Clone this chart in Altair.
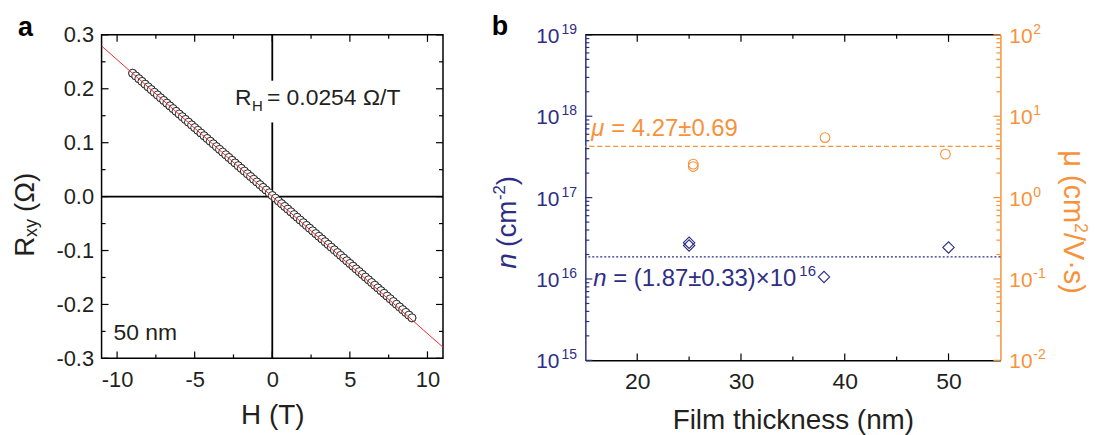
import altair as alt
import pandas as pd

FONT = "Liberation Sans"
INK = "#231f20"
NAVY = "#2d2e83"
ORANGE = "#f7923a"
RED = "#ee2b2b"

# ---------------- panel a : Hall resistance of the 50 nm film ----------------
H_FIELD = [-9.0, -8.8, -8.6, -8.4, -8.2, -8.0, -7.8, -7.6, -7.4, -7.2, -7.0, -6.8, -6.6,
           -6.4, -6.2, -6.0, -5.8, -5.6, -5.4, -5.2, -5.0, -4.8, -4.6, -4.4, -4.2, -4.0,
           -3.8, -3.6, -3.4, -3.2, -3.0, -2.8, -2.6, -2.4, -2.2, -2.0, -1.8, -1.6, -1.4,
           -1.2, -1.0, -0.8, -0.6, -0.4, -0.2, 0.0, 0.2, 0.4, 0.6, 0.8, 1.0, 1.2, 1.4,
           1.6, 1.8, 2.0, 2.2, 2.4, 2.6, 2.8, 3.0, 3.2, 3.4, 3.6, 3.8, 4.0, 4.2, 4.4,
           4.6, 4.8, 5.0, 5.2, 5.4, 5.6, 5.8, 6.0, 6.2, 6.4, 6.6, 6.8, 7.0, 7.2, 7.4,
           7.6, 7.8, 8.0, 8.2, 8.4, 8.6, 8.8, 9.0]
R_XY = [0.2288, 0.2238, 0.2187, 0.2137, 0.2086, 0.2036, 0.1986, 0.1935, 0.1885, 0.1834,
        0.1784, 0.1734, 0.1683, 0.1633, 0.1582, 0.1532, 0.1482, 0.1431, 0.1381, 0.1330,
        0.1280, 0.1230, 0.1179, 0.1129, 0.1078, 0.1028, 0.0978, 0.0927, 0.0877, 0.0826,
        0.0776, 0.0726, 0.0675, 0.0625, 0.0574, 0.0524, 0.0474, 0.0423, 0.0373, 0.0322,
        0.0272, 0.0222, 0.0171, 0.0121, 0.0070, 0.0020, -0.0030, -0.0081, -0.0131, -0.0182,
        -0.0232, -0.0282, -0.0333, -0.0383, -0.0434, -0.0484, -0.0534, -0.0585, -0.0635,
        -0.0686, -0.0736, -0.0786, -0.0837, -0.0887, -0.0938, -0.0988, -0.1038, -0.1089,
        -0.1139, -0.1190, -0.1240, -0.1290, -0.1341, -0.1391, -0.1442, -0.1492, -0.1542,
        -0.1593, -0.1643, -0.1694, -0.1744, -0.1794, -0.1845, -0.1895, -0.1946, -0.1996,
        -0.2046, -0.2097, -0.2147, -0.2198, -0.2248]
FIT_H = [-11.0, 11.0]
FIT_R = [0.2794, -0.2794]
ZERO_V_FROM = [0.3, 0.1376]
ZERO_V_TO = [0.215, -0.3]
A_X_MAJOR = [-10, -5, 0, 5, 10]
A_X_MINOR = [-7.5, -2.5, 2.5, 7.5]
A_Y_MAJOR = [-0.3, -0.2, -0.1, 0.0, 0.1, 0.2, 0.3]
A_Y_MINOR = [-0.25, -0.15, -0.05, 0.05, 0.15, 0.25]

# ---------------- panel b : carrier density and mobility ----------------
N_THICK = [25.0, 25.0, 38.0, 50.0]
N_CONC = [2.79e16, 2.58e16, 1.06e16, 2.44e16]
MU_THICK = [25.4, 25.4, 38.1, 49.7]
MU_VAL = [2.58, 2.41, 5.47, 3.42]
N_MEAN = [1.87e16]
MU_MEAN = [4.27]
B_X_MAJOR = [20, 30, 40, 50]
B_X_MINOR = [25, 35, 45]
N_DECADES = [1e15, 1e16, 1e17, 1e18, 1e19]
N_EXP = ["15", "16", "17", "18", "19"]
MU_DECADES = [0.01, 0.1, 1.0, 10.0, 100.0]
MU_EXP = ["-2", "-1", "0", "1", "2"]
MINOR_MULT = [2, 3, 4, 5, 6, 7, 8, 9]
N_MINOR = [m * d for d in N_DECADES[:-1] for m in MINOR_MULT]
MU_MINOR = [m * d for d in MU_DECADES[:-1] for m in MINOR_MULT]

WA, HA = 343, 325
WB, HB = 417, 327
TK_MAJ, TK_MIN = 7, 4
LBL = 21      # "10" of the log-axis labels
SUP = 14      # exponents

XA = alt.Scale(domain=[-11, 11], nice=False, zero=False)
YA = alt.Scale(domain=[-0.3, 0.3], nice=False, zero=False)
XB = alt.Scale(domain=[15, 55], nice=False, zero=False)
YN = alt.Scale(type="log", domain=[1e15, 1e19], nice=False)
YM = alt.Scale(type="log", domain=[0.01, 100], nice=False)


def frame(**cols):
    return pd.DataFrame(cols)


def side_ticks(values, scale, side, length, color, w, h):
    base = alt.Chart(frame(v=values)).mark_rule(color=color, strokeWidth=1.2)
    if side in ("left", "right"):
        x0 = 0 if side == "left" else w
        x1 = length if side == "left" else w - length
        return base.encode(y=alt.Y("v:Q", scale=scale),
                           x=alt.value(x0), x2=alt.value(x1))
    y0 = 0 if side == "top" else h
    y1 = length if side == "top" else h - length
    return base.encode(x=alt.X("v:Q", scale=scale),
                       y=alt.value(y0), y2=alt.value(y1))


def px_text(t, x, y, **mk):
    return alt.Chart(frame(t=[t])).mark_text(font=FONT, **mk).encode(
        text="t:N", x=alt.value(x), y=alt.value(y))


def data_text(t, x, y, xs, ys, **mk):
    return alt.Chart(frame(t=[t], x=[x], y=[y])).mark_text(font=FONT, **mk).encode(
        text="t:N",
        x=alt.X("x:Q", scale=xs),
        y=alt.Y("y:Q", scale=ys))


def log_labels(decades, exps, scale, x_base, x_sup, align_base, color):
    base = alt.Chart(frame(v=decades, b=["10"] * len(decades), e=exps))
    tens = base.mark_text(font=FONT, fontSize=LBL, color=color, align=align_base,
                          baseline="alphabetic", dy=8).encode(
        text="b:N", y=alt.Y("v:Q", scale=scale), x=alt.value(x_base))
    sups = base.mark_text(font=FONT, fontSize=SUP, color=color, align="left",
                          baseline="alphabetic", dy=-1).encode(
        text="e:N", y=alt.Y("v:Q", scale=scale), x=alt.value(x_sup))
    return [tens, sups]


# ---------------- panel a ----------------
a_points = alt.Chart(frame(h=H_FIELD, r=R_XY)).mark_point(
    shape="circle", filled=True, fill="white", stroke="black", strokeWidth=0.8,
    size=64, opacity=1
).encode(
    x=alt.X("h:Q", scale=XA, title="H (T)",
            axis=alt.Axis(values=A_X_MAJOR,
                          labelExpr="(datum.value < 0 ? '-' : '') + format(abs(datum.value), 'd')",
                          labelPadding=11, labelFlush=False, labelOverlap=False,
                          titleY=65, titleBaseline="alphabetic")),
    y=alt.Y("r:Q", scale=YA, title=None,
            axis=alt.Axis(values=A_Y_MAJOR,
                          labelExpr="(datum.value < -0.0001 ? '-' : '') + format(abs(datum.value), '.1f')",
                          labelPadding=8, labelFlush=False, labelOverlap=False)),
)

a_ticks = [
    side_ticks(A_Y_MAJOR, YA, "left", TK_MAJ, "black", WA, HA),
    side_ticks(A_Y_MINOR, YA, "left", TK_MIN, "black", WA, HA),
    side_ticks(A_Y_MAJOR, YA, "right", TK_MAJ, "black", WA, HA),
    side_ticks(A_Y_MINOR, YA, "right", TK_MIN, "black", WA, HA),
    side_ticks(A_X_MAJOR, XA, "top", TK_MAJ, "black", WA, HA),
    side_ticks(A_X_MINOR, XA, "top", TK_MIN, "black", WA, HA),
    side_ticks(A_X_MAJOR, XA, "bottom", TK_MAJ, "black", WA, HA),
    side_ticks(A_X_MINOR, XA, "bottom", TK_MIN, "black", WA, HA),
]

a_zero_v = alt.Chart(frame(x=[0.0, 0.0], y1=ZERO_V_FROM, y2=ZERO_V_TO)).mark_rule(
    color="black", strokeWidth=1.8
).encode(x=alt.X("x:Q", scale=XA),
         y=alt.Y("y1:Q", scale=YA), y2="y2:Q")
a_zero_h = alt.Chart(frame(y=[0.0])).mark_rule(color="black", strokeWidth=1.8).encode(
    y=alt.Y("y:Q", scale=YA))

a_fit = alt.Chart(frame(h=FIT_H, r=FIT_R)).mark_line(color=RED, strokeWidth=1).encode(
    x=alt.X("h:Q", scale=XA), y=alt.Y("r:Q", scale=YA))

a_texts = [
    data_text("R", -2.4, 0.169, XA, YA, fontSize=23, color=INK, align="left", baseline="alphabetic"),
    data_text("H", -2.4, 0.169, XA, YA, fontSize=15, color=INK, align="left", baseline="alphabetic", dx=17, dy=6),
    data_text("= 0.0254 Ω/T", -2.4, 0.169, XA, YA, fontSize=23, color=INK, align="left", baseline="alphabetic", dx=32),
    data_text("50 nm", -10.23, -0.2667, XA, YA, fontSize=23, color=INK, align="left", baseline="alphabetic"),
    px_text("R", -68, 223, fontSize=28, color=INK, angle=270, align="left", baseline="alphabetic"),
    px_text("xy", -65, 203, fontSize=18, color=INK, angle=270, align="left", baseline="alphabetic"),
    px_text("(Ω)", -68, 178, fontSize=28, color=INK, angle=270, align="left", baseline="alphabetic"),
    px_text("a", -84, 1, fontSize=27, fontWeight="bold", color="black", align="left", baseline="alphabetic"),
]

panel_a = alt.layer(a_points, *a_ticks, a_zero_h, a_zero_v, a_points, a_fit, *a_texts).properties(
    width=WA, height=HA)

# ---------------- panel b ----------------
n_points = alt.Chart(frame(t=N_THICK, n=N_CONC)).mark_point(
    shape="diamond", filled=False, color=NAVY, size=130, strokeWidth=1.1, opacity=1
).encode(
    x=alt.X("t:Q", scale=XB, title="Film thickness (nm)",
            axis=alt.Axis(values=B_X_MAJOR, format="d", labelPadding=10, labelFlush=False,
                          labelOverlap=False, labelFontSize=23,
                          domain=True, domainColor="black", domainWidth=1.5,
                          titleY=68, titleBaseline="alphabetic")),
    y=alt.Y("n:Q", scale=YN, title=None,
            axis=alt.Axis(orient="left", values=N_DECADES, labels=False,
                          domain=True, domainColor=NAVY, domainWidth=1.5)),
)
n_mean = alt.Chart(frame(n=N_MEAN)).mark_rule(color=NAVY, strokeWidth=1.2, strokeDash=[2, 2]).encode(
    y=alt.Y("n:Q", scale=YN))
top_spine = alt.Chart(frame(n=[N_DECADES[-1]])).mark_rule(color="black", strokeWidth=1.5).encode(
    y=alt.Y("n:Q", scale=YN))

n_layer = alt.layer(
    n_points,
    side_ticks(N_DECADES, YN, "left", TK_MAJ, NAVY, WB, HB),
    side_ticks(N_MINOR, YN, "left", TK_MIN, NAVY, WB, HB),
    side_ticks(B_X_MAJOR, XB, "top", TK_MAJ, "black", WB, HB),
    side_ticks(B_X_MINOR, XB, "top", TK_MIN, "black", WB, HB),
    side_ticks(B_X_MAJOR, XB, "bottom", TK_MAJ, "black", WB, HB),
    side_ticks(B_X_MINOR, XB, "bottom", TK_MIN, "black", WB, HB),
    top_spine,
    n_mean,
    *log_labels(N_DECADES, N_EXP, YN, -26, -24, "right", NAVY),
    data_text("n", 15.77, 8.15e15, XB, YN, fontSize=24, fontStyle="italic", color=NAVY,
              align="left", baseline="alphabetic"),
    data_text("= (1.87±0.33)×10", 15.77, 8.15e15, XB, YN, fontSize=24, color=NAVY,
              align="left", baseline="alphabetic", dx=20),
    data_text("16", 15.77, 8.15e15, XB, YN, fontSize=15, color=NAVY,
              align="left", baseline="alphabetic", dx=207, dy=-10),
    px_text("n", -70, 235, fontSize=28, fontStyle="italic", color=NAVY, angle=270,
            align="left", baseline="alphabetic"),
    px_text("(cm", -70, 213, fontSize=28, color=NAVY, angle=270,
            align="left", baseline="alphabetic"),
    px_text("-2", -81, 166, fontSize=17, color=NAVY, angle=270,
            align="left", baseline="alphabetic"),
    px_text(")", -70, 151, fontSize=28, color=NAVY, angle=270,
            align="left", baseline="alphabetic"),
    px_text("b", -94, 0, fontSize=27, fontWeight="bold", color="black", align="left",
            baseline="alphabetic"),
)

mu_points = alt.Chart(frame(t=MU_THICK, m=MU_VAL)).mark_point(
    shape="circle", filled=False, color=ORANGE, size=95, strokeWidth=1.1, opacity=1
).encode(
    x=alt.X("t:Q", scale=XB),
    y=alt.Y("m:Q", scale=YM, title=None,
            axis=alt.Axis(orient="right", values=MU_DECADES, labels=False,
                          domain=True, domainColor=ORANGE, domainWidth=1.5)),
)
mu_mean = alt.Chart(frame(m=MU_MEAN)).mark_rule(color=ORANGE, strokeWidth=1.2, strokeDash=[5, 3]).encode(
    y=alt.Y("m:Q", scale=YM))

mu_layer = alt.layer(
    mu_points,
    side_ticks(MU_DECADES, YM, "right", TK_MAJ, ORANGE, WB, HB),
    side_ticks(MU_MINOR, YM, "right", TK_MIN, ORANGE, WB, HB),
    mu_mean,
    *log_labels(MU_DECADES, MU_EXP, YM, WB + 9, WB + 33, "left", ORANGE),
    data_text("μ", 15.58, 5.69, XB, YM, fontSize=24, fontStyle="italic", color=ORANGE,
              align="left", baseline="alphabetic"),
    data_text("= 4.27±0.69", 15.58, 5.69, XB, YM, fontSize=24, color=ORANGE,
              align="left", baseline="alphabetic", dx=20),
    px_text("μ (cm", WB + 64, 116, fontSize=29, color=ORANGE, angle=90,
            align="left", baseline="alphabetic"),
    px_text("2", WB + 75, 189, fontSize=18, color=ORANGE, angle=90,
            align="left", baseline="alphabetic"),
    px_text("/V·s)", WB + 64, 199, fontSize=29, color=ORANGE, angle=90,
            align="left", baseline="alphabetic"),
)

panel_b = alt.layer(n_layer, mu_layer).resolve_scale(y="independent").properties(
    width=WB, height=HB, view=alt.ViewBackground(stroke="transparent"))

chart = alt.hconcat(panel_a, panel_b, spacing=143, bounds="flush").configure(
    font=FONT, padding={"left": 3, "top": 3, "right": 0, "bottom": 0}
).configure_axis(
    grid=False, ticks=False, tickSize=0, domain=False,
    labelFont=FONT, labelFontSize=22, labelColor=INK,
    titleFont=FONT, titleFontSize=28, titleFontWeight="normal", titleColor=INK,
).configure_view(stroke="black", strokeWidth=1.5)

chart.save("out.html", embed_options={"renderer": "svg", "actions": False})
